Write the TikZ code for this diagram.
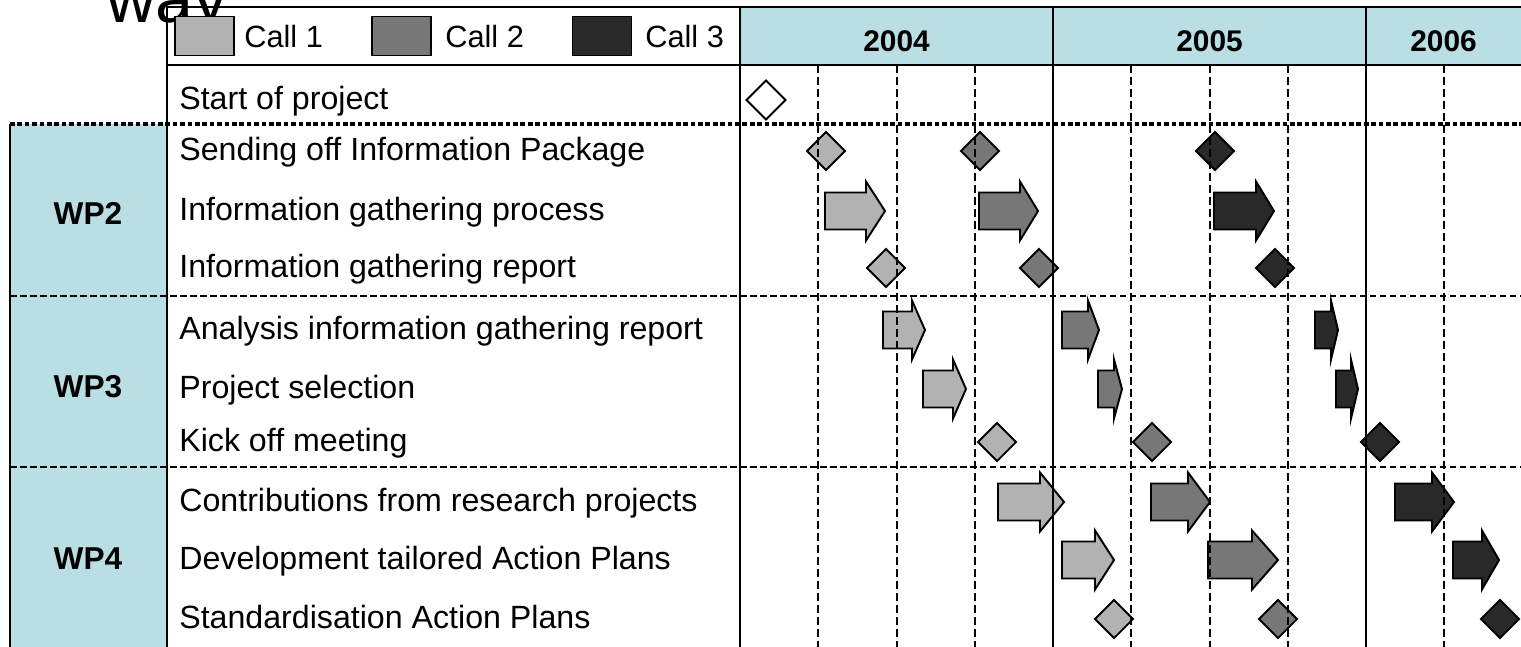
\documentclass[tikz,border=0pt]{standalone}
\usepackage{fontspec}
\setmainfont{Liberation Sans}
\usetikzlibrary{shapes.geometric}
\definecolor{wpteal}{RGB}{185,223,228}
\definecolor{callone}{RGB}{178,178,178}
\definecolor{calltwo}{RGB}{119,119,119}
\definecolor{callthree}{RGB}{41,41,41}
% block arrow: start, head base, tip, row, fill
\newcommand{\callarrow}[5]{\draw [callbar,fill=#5] (#1,#4-18.5) -- (#2,#4-18.5) -- (#2,#4-29.5) -- (#3,#4) -- (#2,#4+29.5) -- (#2,#4+18.5) -- (#1,#4+18.5) -- cycle;}
\begin{document}
\begin{tikzpicture}
[x=0.02cm,y=-0.02cm,
ms/.style={diamond,draw,line width=1.1pt,minimum size=0.78cm,inner sep=0pt},
sw/.style={draw,line width=1.1pt,minimum width=1.18cm,minimum height=0.78cm,inner sep=0pt},
callbar/.style={draw,line width=1.1pt,line join=miter},
lbl/.style={anchor=base west,inner sep=0pt,font=\fontsize{18.3}{21}\selectfont},
key/.style={anchor=base west,inner sep=0pt,font=\fontsize{17.5}{20}\selectfont},
hd/.style={anchor=base,inner sep=0pt,font=\fontsize{17}{20}\selectfont\bfseries},
wp/.style={anchor=base,inner sep=0pt,font=\fontsize{18}{20}\selectfont\bfseries},
rule/.style={line width=1.1pt},
qline/.style={line width=1.6pt,dash pattern=on 0.16cm off 0.08cm},
wpline/.style={line width=1.2pt,dash pattern=on 0.134cm off 0.066cm},
topline/.style={line width=2.1pt,dash pattern=on 0.094cm off 0.054cm}]
\useasboundingbox (0,0) rectangle (1521,646);
\clip (0,0) rectangle (1521,646);

\fill [wpteal] (740,7) rectangle (1521,65);
\fill [wpteal] (10,124) rectangle (167,660);

\node [anchor=base west,inner sep=0pt,font=\fontsize{39}{42}\selectfont] (way) at (106,22) {way};

% legend
\draw [rule] (167,7) rectangle (740,65);
\node [sw,fill=callone] (k1) at (204.5,36) {};
\node [sw,fill=calltwo] (k2) at (401.5,36) {};
\node [sw,fill=callthree] (k3) at (602,36) {};
\node [key] (c1) at (244,47.5) {Call 1};
\node [key] (c2) at (445,47.5) {Call 2};
\node [key] (c3) at (645,47.5) {Call 3};

% milestones
\node [ms,fill=white,minimum size=0.8cm] (m0) at (766,100) {};
\node [ms,fill=callone] (m11) at (826,151) {};
\node [ms,fill=calltwo] (m12) at (980,151) {};
\node [ms,fill=callthree] (m13) at (1215,151) {};
\node [ms,fill=callone] (m31) at (886,268) {};
\node [ms,fill=calltwo] (m32) at (1039,268) {};
\node [ms,fill=callthree] (m33) at (1275,268) {};
\node [ms,fill=callone] (m61) at (997,442) {};
\node [ms,fill=calltwo] (m62) at (1152,442) {};
\node [ms,fill=callthree] (m63) at (1380,442) {};
\node [ms,fill=callone] (m91) at (1114,619) {};
\node [ms,fill=calltwo] (m92) at (1278,619) {};
\node [ms,fill=callthree] (m93) at (1500,619) {};

% activities
\callarrow{825}{866}{885}{211}{callone}
\callarrow{979}{1020}{1038}{211}{calltwo}
\callarrow{1214}{1256}{1274}{211}{callthree}
\callarrow{883}{912}{925}{330}{callone}
\callarrow{1062}{1088}{1099}{330}{calltwo}
\callarrow{1315}{1331}{1338}{330}{callthree}
\callarrow{923}{953}{966}{389}{callone}
\callarrow{1098}{1114}{1122}{389}{calltwo}
\callarrow{1336}{1351}{1358}{389}{callthree}
\callarrow{998}{1040}{1064}{502}{callone}
\callarrow{1151}{1188}{1210}{502}{calltwo}
\callarrow{1395}{1432}{1454}{502}{callthree}
\callarrow{1062}{1095}{1114}{560}{callone}
\callarrow{1208}{1252}{1278}{560}{calltwo}
\callarrow{1453}{1482}{1499}{560}{callthree}

% table lines
\draw [rule] (740,7) -- (1521,7);
\draw [rule] (740,65) -- (1521,65);
\draw [rule] (167,65) -- (167,660);
\draw [rule] (740,7) -- (740,660);
\draw [rule] (1053,7) -- (1053,660);
\draw [rule] (1366,7) -- (1366,660);
\draw [rule] (10,124) -- (10,660);
\draw [qline] (818,65) -- (818,660);
\draw [qline] (897,65) -- (897,660);
\draw [qline] (975,65) -- (975,660);
\draw [qline] (1131,65) -- (1131,660);
\draw [qline] (1210,65) -- (1210,660);
\draw [qline] (1288,65) -- (1288,660);
\draw [qline] (1444,65) -- (1444,660);
\draw [topline] (10,124) -- (1521,124);
\draw [wpline] (10,296) -- (1521,296);
\draw [wpline] (10,467) -- (1521,467);

% headers
\node [hd] (y04) at (896.5,51) {2004};
\node [hd] (y05) at (1209.5,51) {2005};
\node [hd] (y06) at (1443.5,51) {2006};
\node [wp] (wp2) at (88,224) {WP2};
\node [wp] (wp3) at (88,397) {WP3};
\node [wp] (wp4) at (88,569) {WP4};

% rows
\node [lbl] (t0) at (179,109) {Start of project};
\node [lbl] (t1) at (179,160) {Sending off Information Package};
\node [lbl] (t2) at (179,220) {Information gathering process};
\node [lbl] (t3) at (179,277) {Information gathering report};
\node [lbl] (t4) at (179,339) {Analysis information gathering report};
\node [lbl] (t5) at (179,398) {Project selection};
\node [lbl] (t6) at (179,451) {Kick off meeting};
\node [lbl] (t7) at (179,511) {Contributions from research projects};
\node [lbl] (t8) at (179,569) {Development tailored Action Plans};
\node [lbl] (t9) at (179,628) {Standardisation Action Plans};
\end{tikzpicture}
\end{document}
